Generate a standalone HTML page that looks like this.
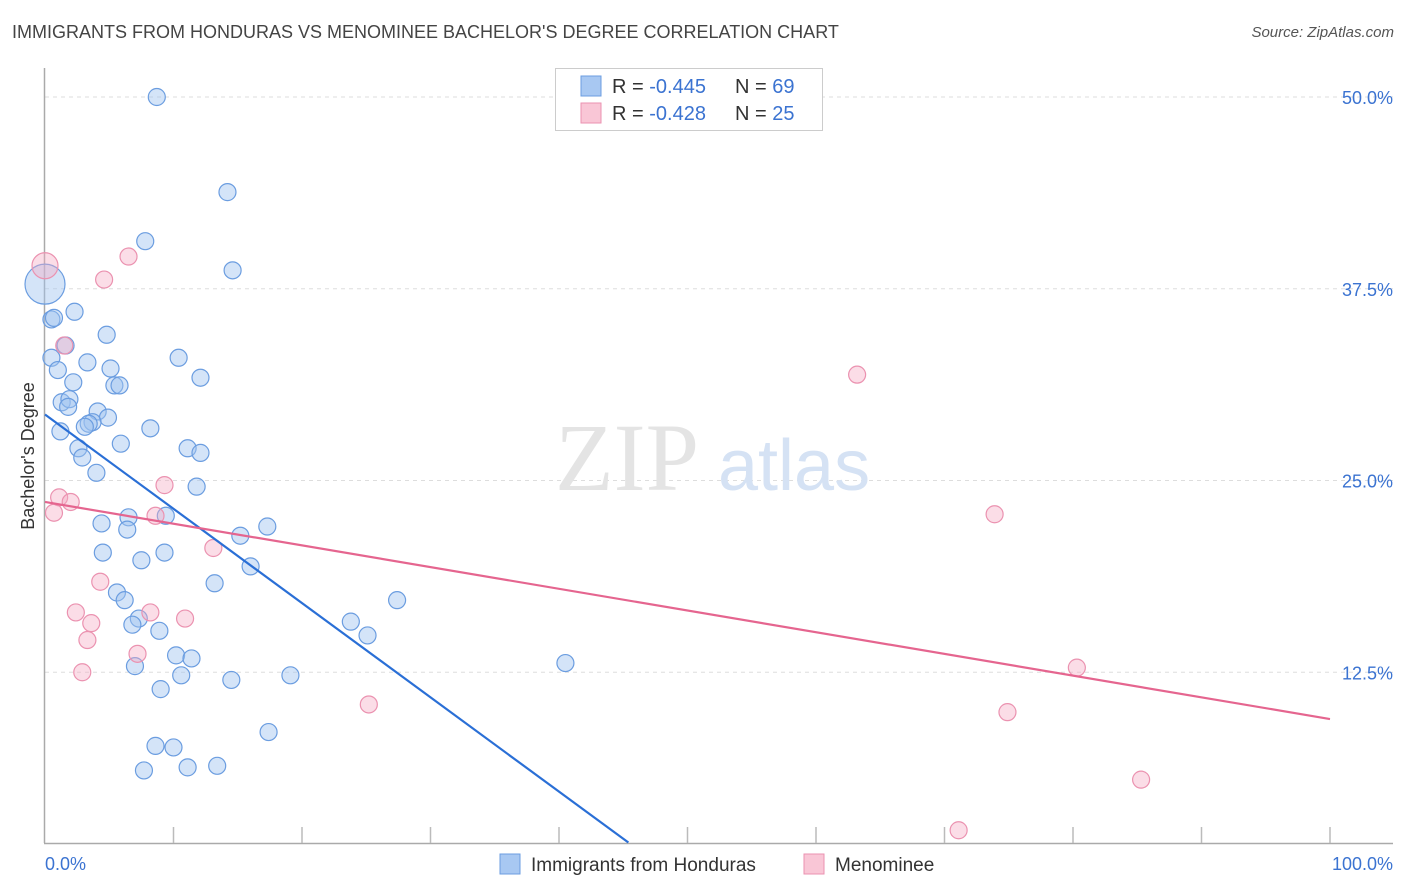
<!DOCTYPE html>
<html><head><meta charset="utf-8"><style>
body{margin:0;background:#fff;font-family:"Liberation Sans",sans-serif;}
#wrap{position:relative;width:1406px;height:892px;overflow:hidden;}
.t{position:absolute;white-space:nowrap;}
</style></head><body>
<div id="wrap">
<div class="t" style="left:12px;top:22px;font-size:18px;color:#444;">IMMIGRANTS FROM HONDURAS VS MENOMINEE BACHELOR'S DEGREE CORRELATION CHART</div>
<div class="t" style="right:12px;top:24px;font-size:15px;color:#555;font-style:italic;">Source: ZipAtlas.com</div>
<svg id="plot" width="1406" height="892" style="position:absolute;left:0;top:0"></svg>
</div>
<script>
const xTicksPct=[0,100];
const yTicks=[12.5,25,37.5,50];
const yTickLabels=["12.5%","25.0%","37.5%","50.0%"];
const blueX=[8.7,14.2,7.8,14.6,0.5,2.3,4.8,1.6,10.4,0.5,1.0,3.3,5.1,2.2,5.4,5.8,12.1,1.3,1.9,1.8,4.1,4.9,3.7,3.4,3.1,1.2,8.2,5.9,2.6,2.9,11.1,12.1,4.0,11.8,4.4,6.5,6.4,9.4,15.2,17.3,4.5,9.3,7.5,16.0,13.2,5.6,6.2,27.4,7.3,6.8,23.8,8.9,25.1,10.2,11.4,7.0,40.5,10.6,14.5,19.1,9.0,17.4,8.6,10.0,11.1,13.4,7.7,0.7];
const blueY=[50.0,43.8,40.6,38.7,35.5,36.0,34.5,33.8,33.0,33.0,32.2,32.7,32.3,31.4,31.2,31.2,31.7,30.1,30.3,29.8,29.5,29.1,28.8,28.7,28.5,28.2,28.4,27.4,27.1,26.5,27.1,26.8,25.5,24.6,22.2,22.6,21.8,22.7,21.4,22.0,20.3,20.3,19.8,19.4,18.3,17.7,17.2,17.2,16.0,15.6,15.8,15.2,14.9,13.6,13.4,12.9,13.1,12.3,12.0,12.3,11.4,8.6,7.7,7.6,6.3,6.4,6.1,35.6];
const pinkX=[6.5,4.6,1.5,63.2,9.3,1.1,2.0,0.7,8.6,13.1,73.9,4.3,2.4,8.2,10.9,3.6,3.3,7.2,2.9,80.3,25.2,74.9,85.3,71.1];
const pinkY=[39.6,38.1,33.8,31.9,24.7,23.9,23.6,22.9,22.7,20.6,22.8,18.4,16.4,16.4,16.0,15.7,14.6,13.7,12.5,12.8,10.4,9.9,5.5,2.2];
const blueBig=[0,37.8];
const pinkBig=[0,39.0];
const blueTrend=[[0,29.3],[45.4,1.4]];
const pinkTrend=[[0,23.6],[100,9.45]];
const X0=45,X1=1330,YB=864,YS=15.34;
const sx=v=>X0+(X1-X0)*v/100;
const sy=v=>YB-v*YS;
const svg=document.getElementById('plot');
const NS='http://www.w3.org/2000/svg';
function mk(tag,attrs){const e=document.createElementNS(NS,tag);for(const k in attrs)e.setAttribute(k,attrs[k]);svg.appendChild(e);return e;}
// gridlines
yTicks.forEach((v,i)=>{
 const g=mk('line',{x1:45,x2:1393,y1:sy(v),y2:sy(v),stroke:'#ddd','stroke-dasharray':'4,4'});
 
 
 const t=mk('text',{x:1393,y:sy(v)+7,'text-anchor':'end','font-size':18,fill:'#3b73d1'});
 t.textContent=yTickLabels[i];
 
 
});
// watermark
const w1=mk('text',{x:555,y:490,'font-size':96,fill:'#e4e4e4','font-family':'Liberation Serif, serif'});w1.textContent='ZIP';


const w2=mk('text',{x:718,y:490,'font-size':72,fill:'#d5e2f4'});w2.textContent='atlas';


// axes
let a=mk('line',{x1:44.5,x2:44.5,y1:68,y2:843,stroke:'#aaa','stroke-width':1.5});


a=mk('line',{x1:44,x2:1393,y1:843.5,y2:843.5,stroke:'#aaa','stroke-width':1.5});


for(let i=1;i<=10;i++){const t=mk('line',{x1:sx(i*10),x2:sx(i*10),y1:827,y2:843,stroke:'#bbb','stroke-width':1.5});
 
 }
xTicksPct.forEach(v=>{const t=mk('text',{x:v==0?45:1393,y:870,'text-anchor':v==0?'start':'end','font-size':18,fill:'#3b73d1'});t.textContent=v.toFixed(1)+'%';
 
 });
const yl=mk('text',{x:34,y:456,'text-anchor':'middle','font-size':18,fill:'#333',transform:'rotate(-90 34 456)'});yl.textContent="Bachelor's Degree";


// points
function dot(x,y,r,blue){const c=mk('circle',{cx:sx(x),cy:sy(y),r:r,fill:blue?'rgba(160,195,240,0.45)':'rgba(245,170,195,0.4)',stroke:blue?'#6b9de0':'#eb92b0','stroke-width':1.2});return c;}
blueX.forEach((x,i)=>{const c=dot(x,blueY[i],8.5,true);
 
 });
pinkX.forEach((x,i)=>{const c=dot(x,pinkY[i],8.5,false);
 
 });
let b=dot(blueBig[0],blueBig[1],20,true);


b=dot(pinkBig[0],pinkBig[1],13,false);


// trends
let l=mk('line',{x1:sx(blueTrend[0][0]),y1:sy(blueTrend[0][1]),x2:sx(blueTrend[1][0]),y2:sy(blueTrend[1][1]),stroke:'#2a6fd6','stroke-width':2.2});


l=mk('line',{x1:sx(pinkTrend[0][0]),y1:sy(pinkTrend[0][1]),x2:sx(pinkTrend[1][0]),y2:sy(pinkTrend[1][1]),stroke:'#e5658f','stroke-width':2.2});


// top legend
let r=mk('rect',{x:555.5,y:68.5,width:267,height:62,fill:'#fff',stroke:'#ccc'});


[[86,'#a8c8f2','#6b9de0','-0.445','69'],[113,'#f9c6d6','#eb92b0','-0.428','25']].forEach(d=>{
 const s=mk('rect',{x:581,y:d[0]-10,width:20,height:20,fill:d[1],stroke:d[2]});
 
 
 const t=mk('text',{x:612,y:d[0]+7,'font-size':20,fill:'#333'});
 t.innerHTML='R = <tspan fill="#3b73d1">'+d[3]+'</tspan><tspan x="735">N = </tspan><tspan fill="#3b73d1">'+d[4]+'</tspan>';
 
 
});
// bottom legend
[[500,'#a8c8f2','#6b9de0','Immigrants from Honduras'],[804,'#f9c6d6','#eb92b0','Menominee']].forEach(d=>{
 const s=mk('rect',{x:d[0],y:854,width:20,height:20,fill:d[1],stroke:d[2]});
 
 
 const t=mk('text',{x:d[0]+31,y:871,'font-size':19,fill:'#333'});t.textContent=d[3];
 
 
});
</script>
</body></html>
